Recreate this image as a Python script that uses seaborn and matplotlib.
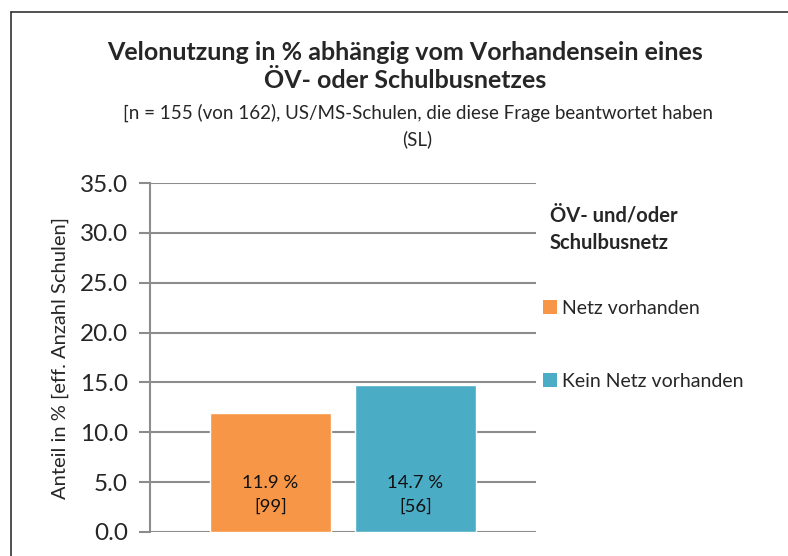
import numpy as np
import pandas as pd
import matplotlib.pyplot as plt
import seaborn as sns
from matplotlib.lines import Line2D
from matplotlib.patches import Patch

# Daten
gruppen = ['Netz vorhanden', 'Kein Netz vorhanden']
anteile = [11.9, 14.7]
anzahl = [99, 56]
farben = ['#F79646', '#4BACC6']
y_ticks = [0, 5, 10, 15, 20, 25, 30, 35]

df = pd.DataFrame({'kat': ['alle', 'alle'], 'gruppe': gruppen, 'anteil': anteile})

sns.set_style('white')
plt.rcParams['font.family'] = ['Lato', 'DejaVu Sans']

fig = plt.figure(figsize=(7.88, 5.56), dpi=100)
ax = fig.add_axes([150 / 788, 1 - 532 / 556, (536 - 150) / 788, (532 - 183) / 556])

sns.barplot(data=df, x='kat', y='anteil', hue='gruppe', palette=farben,
            width=0.75, gap=0.165, legend=False, ax=ax, saturation=1)

# Beschriftung in den Balken
for p, wert, n in zip(ax.patches, anteile, anzahl):
    ax.text(p.get_x() + p.get_width() / 2, 3.75, f'{wert:.1f} %\n[{n}]',
            ha='center', va='center', fontsize=13.3, linespacing=1.55, color='#111111')

ax.set_ylim(0, 35)
ax.set_xlim(-0.5, 0.5)
ax.set_yticks(y_ticks)
ax.set_yticklabels([f'{v:.1f}' for v in y_ticks], fontsize=17.5)
ax.set_xticks([])
ax.set_xlabel('')
ax.set_ylabel('Anteil in % [eff. Anzahl Schulen]', fontsize=14.5, labelpad=8)
ax.yaxis.grid(True, color='#8c8c8c', linewidth=1.5)
ax.set_axisbelow(True)
ax.tick_params(axis='y', length=8, width=1.5, color='#8c8c8c', pad=8, left=True)
for s in ['top', 'right', 'bottom']:
    ax.spines[s].set_visible(False)
ax.spines['left'].set_color('#8c8c8c')
ax.spines['left'].set_linewidth(1.5)

# Titel
fig.text(0.514, 1 - 53 / 556, 'Velonutzung in % abhängig vom Vorhandensein eines',
         ha='center', va='center', fontsize=18, fontweight='bold')
fig.text(0.514, 1 - 81 / 556, 'ÖV- oder Schulbusnetzes',
         ha='center', va='center', fontsize=18, fontweight='bold')
fig.text(0.53, 1 - 113 / 556,
         '[n = 155 (von 162), US/MS-Schulen, die diese Frage beantwortet haben',
         ha='center', va='center', fontsize=13.5)
fig.text(0.53, 1 - 139 / 556, '(SL)', ha='center', va='center', fontsize=13.5)

# Legende
fig.text(550 / 788, 1 - 216 / 556, 'ÖV- und/oder', ha='left', va='center',
         fontsize=14.5, fontweight='bold')
fig.text(550 / 788, 1 - 243 / 556, 'Schulbusnetz', ha='left', va='center',
         fontsize=14.5, fontweight='bold')
handles = [Patch(facecolor=c, edgecolor='none') for c in farben]
fig.legend(handles, gruppen, loc='upper left', bbox_to_anchor=(533 / 788, 1 - 290 / 556),
           frameon=False, fontsize=14, labelspacing=2.9, handlelength=0.75,
           handleheight=0.75, handletextpad=0.25, borderpad=0)

# Rahmen links und oben
fig.add_artist(Line2D([11 / 788, 11 / 788], [0, 1 - 12 / 556], color='#333333', linewidth=1.2))
fig.add_artist(Line2D([11 / 788, 1], [1 - 12 / 556, 1 - 12 / 556], color='#333333', linewidth=1.2))

fig.savefig('out.png', dpi=100)
